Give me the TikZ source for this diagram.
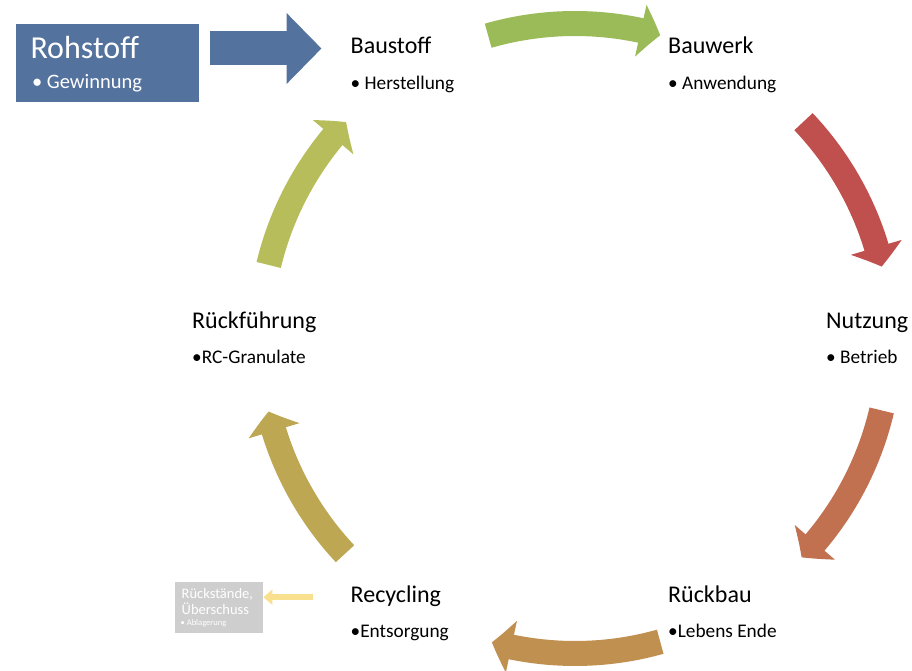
\documentclass[tikz,border=0pt]{standalone}
\usepackage{fontspec}
\setmainfont{Carlito}
\usepackage{tikz}
\usetikzlibrary{positioning,calc,arrows.meta,bending}
\definecolor{rohblue}{RGB}{84,114,158}
\definecolor{cgreen}{RGB}{155,187,89}
\definecolor{cred}{RGB}{192,80,77}
\definecolor{corange}{RGB}{193,112,80}
\definecolor{cbrown}{RGB}{192,144,80}
\definecolor{colive}{RGB}{190,167,83}
\definecolor{cyellow}{RGB}{183,189,90}
\definecolor{restgrey}{RGB}{206,206,206}
\definecolor{restarrow}{RGB}{249,224,142}

\begin{document}
\begin{tikzpicture}[x=1pt, y=1pt, node distance=36pt,
	title/.style={inner sep=0pt, anchor=base west, font=\fontsize{24}{28}\selectfont},
	item/.style={inner sep=0pt, anchor=base west, font=\fontsize{19.3}{23}\selectfont},
	cyc/.style={line width=25pt, -{Triangle[length=20pt, width=52pt, bend]}}]
	\useasboundingbox (0,0) rectangle (912,-671);
	% Rohstoff
	\node [fill=rohblue, minimum width=183pt, minimum height=78pt, anchor=north west] (rohstoff) at (16,-23.5) {};
	\node [title, white, font=\fontsize{32}{36}\selectfont] (rohtitle) at (30.3,-58.3) {Rohstoff};
	\node [item, white, font=\fontsize{20.5}{24}\selectfont] (rohitem) at ($(rohtitle.base west)+(1.5,-30)$) {• Gewinnung};
	% stages
	\node [title] (baustoff) at (350.5,-54) {Baustoff};
	\node [item] (herst) [below=of baustoff.base west, anchor=base west] {• Herstellung};
	\node [title] (bauwerk) at (668,-54) {Bauwerk};
	\node [item] (anw) [below=35.5pt of bauwerk.base west, anchor=base west] {• Anwendung};
	\node [title] (nutzung) at (826,-328.3) {Nutzung};
	\node [item] (betrieb) [below=35pt of nutzung.base west, anchor=base west] {• Betrieb};
	\node [title] (rueckbau) at (668,-602.5) {Rückbau};
	\node [item] (ende) [below=35pt of rueckbau.base west, anchor=base west] {•Lebens Ende};
	\node [title] (recycling) at (350.5,-602.5) {Recycling};
	\node [item] (entsorg) [below=35pt of recycling.base west, anchor=base west] {•Entsorgung};
	\node [title] (rueckf) at (192,-328.3) {Rückführung};
	\node [item] (granulat) [below=35pt of rueckf.base west, anchor=base west] {•RC-Granulate};
	% Rueckstaende
	\node [fill=restgrey, minimum width=88pt, minimum height=51pt, anchor=north west] (rest) at (175,-582) {};
	\node [inner sep=0pt, anchor=north west, align=left, white, font=\fontsize{14.5}{16}\selectfont] (resttitle) at (181.5,-588.5) {Rückstände,\\Überschuss};
	\node [inner sep=0pt, anchor=base west, white, font=\fontsize{8.5}{10}\selectfont] (restitem) at (180.5,-625) {• Ablagerung};
	% arrows
	\coordinate (pfeilende) at ([shift={(-29,5.5)}]baustoff.base west);
	\draw [line width=34pt, rohblue, -{Triangle[length=35pt, width=69pt]}] ($(rohstoff.east |- pfeilende)+(11,0)$) -- (pfeilende);
	\coordinate (c) at (575,-338.5);
	\draw [cyc, cgreen] ([shift={(106:315)}]c) arc [start angle=106, end angle=74.3, radius=315];
	\draw [cyc, cred] ([shift={(43.5:315)}]c) arc [start angle=43.5, end angle=13.2, radius=315];
	\draw [cyc, corange] ([shift={(-13.2:315)}]c) arc [start angle=-13.2, end angle=-44, radius=315];
	\draw [cyc, cbrown] ([shift={(-74.3:315)}]c) arc [start angle=-74.3, end angle=-105.3, radius=315];
	\draw [cyc, colive] ([shift={(223.1:315)}]c) arc [start angle=223.1, end angle=193.4, radius=315];
	\draw [cyc, cyellow] ([shift={(166.5:315)}]c) arc [start angle=166.5, end angle=136.6, radius=315];
	\coordinate (reststart) at ([shift={(50,10.5)}]rest.east);
	\draw [line width=6pt, restarrow, -{Triangle[length=9pt, width=15pt]}] (reststart) -- (rest.east |- reststart);
\end{tikzpicture}
\end{document}
